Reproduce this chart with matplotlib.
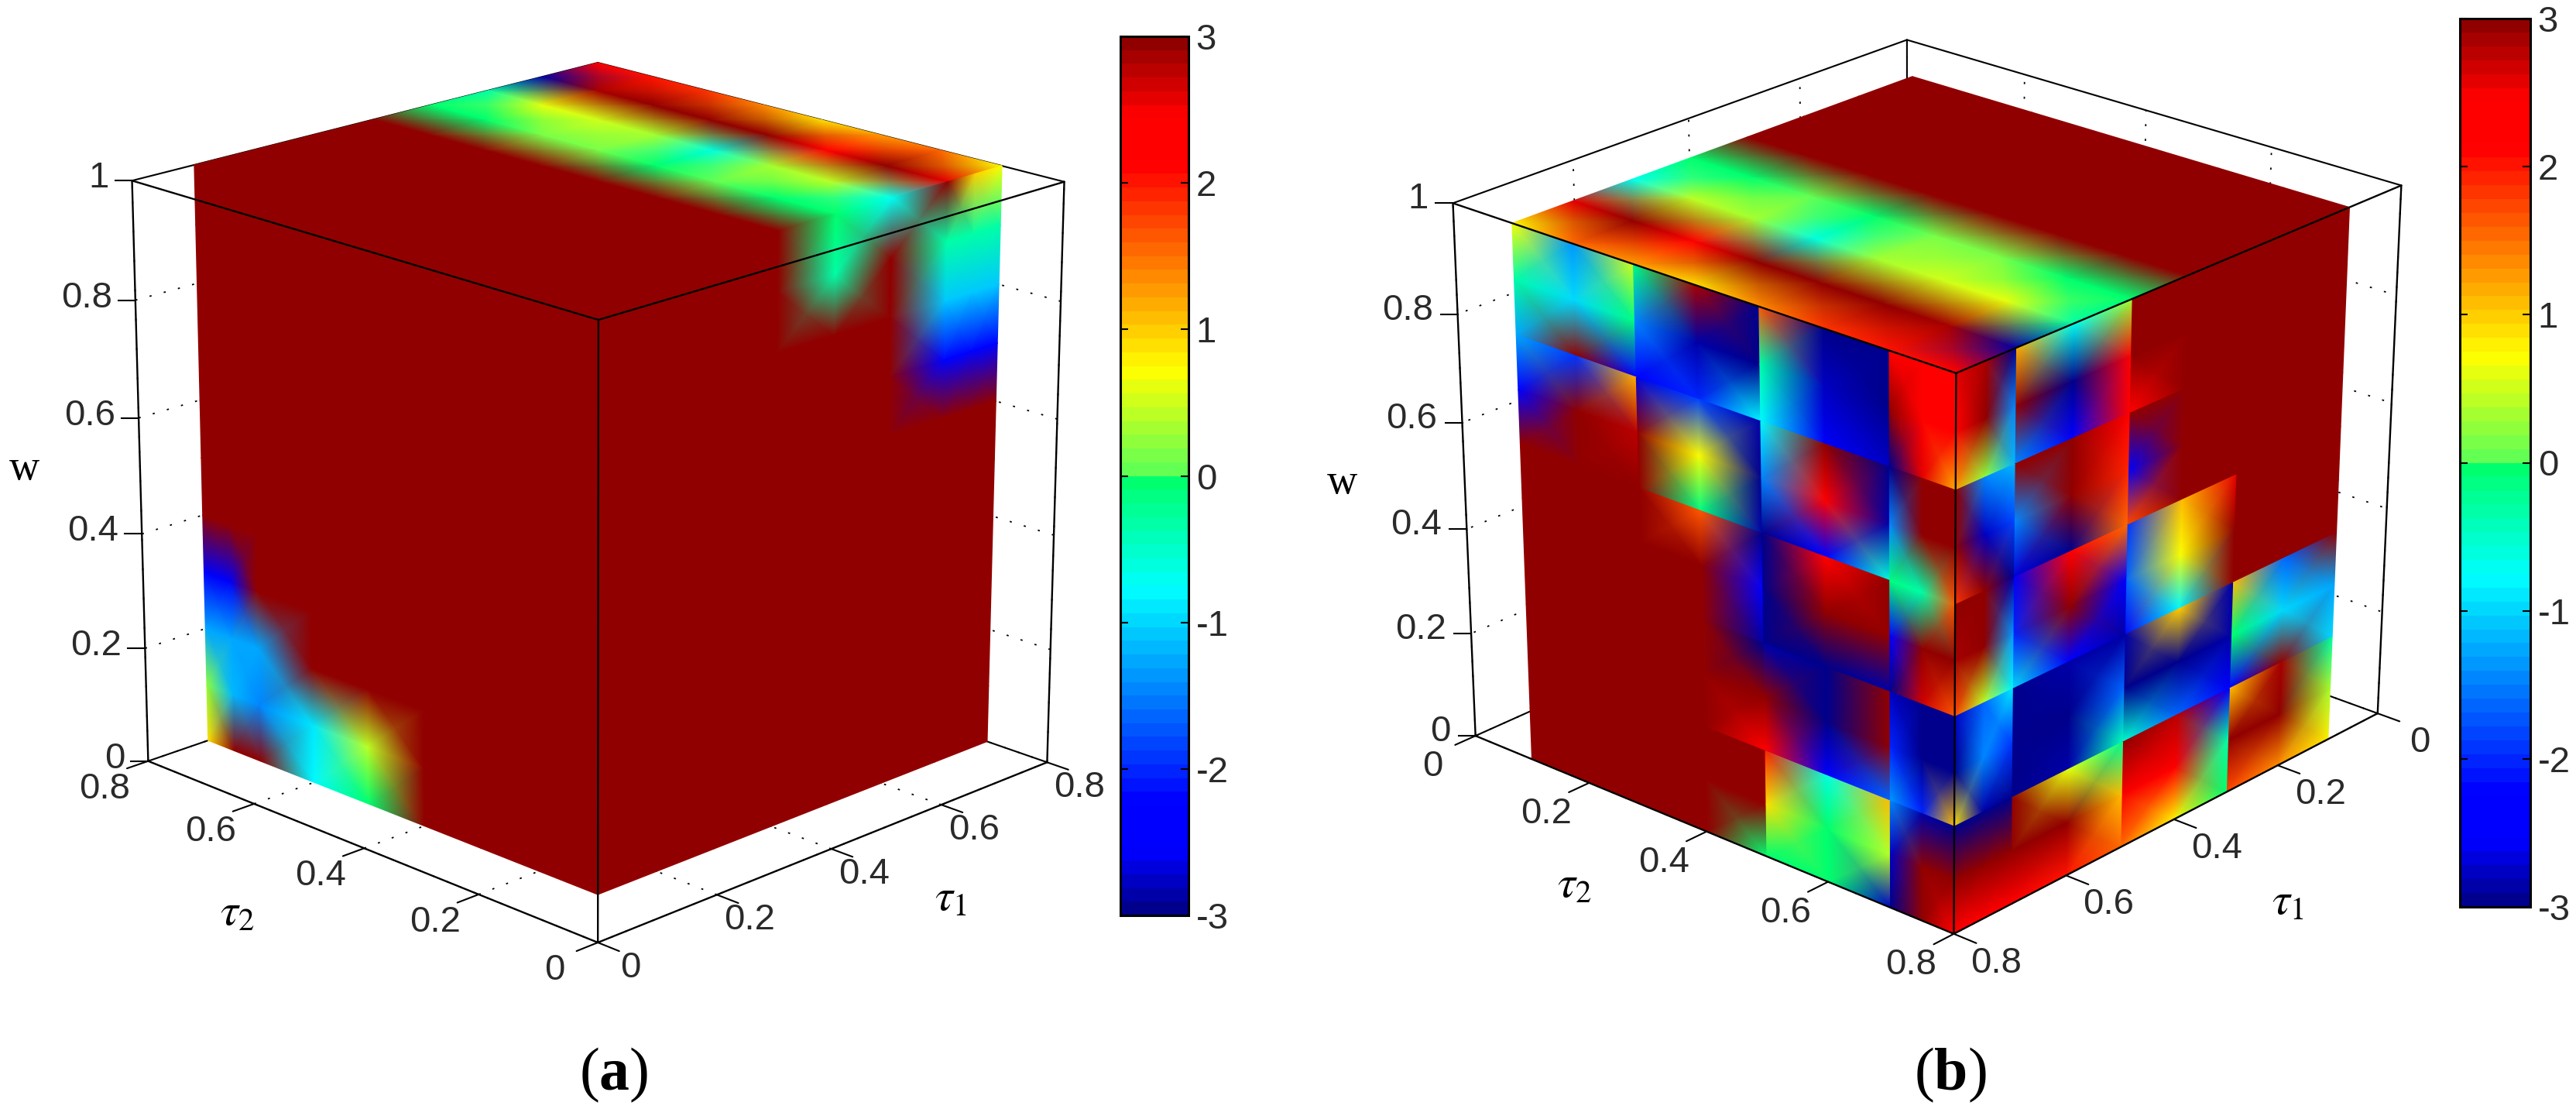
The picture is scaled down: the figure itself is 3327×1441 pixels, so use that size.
import numpy as np
import matplotlib
matplotlib.use("Agg")
import matplotlib.pyplot as plt
from matplotlib.colors import LinearSegmentedColormap, Normalize
from matplotlib.cm import ScalarMappable

W, H = 3327, 1441

# sampling of the slices: 5 w bands, 4 tau cells, 3x3 nodes in each cell
w_bands = [[1.0, 0.9, 0.8], [0.8, 0.7, 0.6], [0.6, 0.5, 0.4], [0.4, 0.3, 0.2], [0.2, 0.1, 0.0]]
tau_cells = [[0.1, 0.2, 0.3], [0.3, 0.4, 0.5], [0.5, 0.6, 0.7], [0.7, 0.75, 0.8]]
top_tau = [0.1, 0.2, 0.3, 0.4, 0.5, 0.6, 0.7, 0.8]

# w = 1 slice, shown in both panels: rows tau1 = 0.1 .. 0.8, columns tau2 = 0.1 .. 0.8
top_values = [
    [3, 3, 3, 3, 3, 3, 3, 3],
    [3, 3, 3, 3, 3, 3, 3, 3],
    [3, 3, 3, 3, 3, 3, 3, 3],
    [3, 3, 3, 3, 3, 3, 3, 3],
    [-0.05, -0.05, 0.05, -0.05, 0.1, 0.1, -0.05, -0.05],
    [-0.7, 0.45, 0.3, -0.6, 0.35, 0.5, 0.6, -0.3],
    [2.6, 3, 2.4, 3, 3, 3, 2.9, -2.9],
    [0.7, 1.5, 1.3, 0.9, 1.4, 1.8, 2.0, 2.2],
]

# panel (b), slice tau1 = 0.8: rows w from 1 down, columns tau2 ascending
b_left = [
    [0.7, -1.4, 0.5, -0.1, 2.9, -3, 1.6, -3, -3, 2.1, 2.3, 2.4],
    [-0.3, -1.0, -0.1, -1.5, -2.9, -3, -0.3, -2.8, -3, 3, 2.3, 2.3],
    [-1.3, 3, -2.5, -2.4, -2, -0.8, -0.8, -2.6, -2.8, -3, 2.6, 1.2],
    [-1.3, -1.9, 1.2, -2.7, -1.8, -2.9, -0.8, 3, -3, -3, 3, 3],
    [-2.2, 3, 2.8, 3, 0.7, -3, -1.5, 2.3, -2.9, -1.5, 3, 3],
    [3, 3, 3, 3, -0.1, -2.9, -3, -2.3, -0.6, -0.1, -0.3, 1.6],
    [3, 3, 3, 3, 1.6, -3, -3, 2.3, 3, -0.1, -0.3, 1.6],
    [3, 3, 3, 3, 3, -2.4, -3, 3, 3, -2.5, 3, 3],
    [3, 3, 3, 3, 3, -2.9, -3, -3, -2.9, -3, 2.7, 1.6],
    [3, 3, 3, 3, 3, -3, -2.9, -3, 3, -2.8, -3, -3],
    [3, 3, 3, 3, 3, 3, 3, -3, 3, -2, -3, -3],
    [3, 3, 3, 3, 3, 2.2, 2.2, -2.4, -1.6, -1.4, -2, 1.1],
    [3, 3, 3, 3, 3, 3, 1.9, -0.6, 1.1, -1.5, -2.9, -3],
    [3, 3, 3, 3, 3, 3, 0.9, -0.05, 0.45, -2.8, 3, 3],
    [3, 3, 3, 3, 3, -0.05, -0.05, -0.05, -2.8, -3, 3, 2.3],
]

# panel (b), slice tau2 = 0.8: rows w from 1 down, columns tau1 descending (left to right on screen)
b_right = [
    [2.6, 2.9, -3, 1.2, -0.7, 0.3, 3, 3, 3, 3, 3, 3],
    [2.3, 3, -1.5, 3, -3, 2.2, 3, 3, 3, 3, 3, 3],
    [1.3, 0.2, -1.2, -1.5, -2.4, 2.2, 2.2, 3, 3, 3, 3, 3],
    [3, -1.5, -1.2, 3, 3, 2.2, 3, 3, 3, 3, 3, 3],
    [3, -2.8, -1.8, -1.5, 3, 1.9, -2.6, 3, 3, 3, 3, 3],
    [1.8, 3, -3, -2.7, -3, 1.5, 1.7, 3, 3, 3, 3, 3],
    [3, 3, -2.9, -2.6, 2.2, 1.5, -1.9, 1.1, 2.6, 3, 3, 3],
    [2.9, 3, -1.4, -2, 3, -2.4, -1.6, 0.7, 3, 3, 3, 3],
    [1.7, 0.4, -0.8, -1, -2.4, -2.9, -2.2, -0.8, 3, 3, 3, 3],
    [-2.8, -1.6, -0.9, -3, -2.9, -2.9, -2.9, 1, -2.9, 1.1, -1.6, 3],
    [-3, -1.5, -1.9, -3, -3, -1.6, -3, -3, -2.9, -0.05, -1, -1.3],
    [0.9, -2.9, -3, -3, -2.9, -0.4, -0.5, -1.6, -2.4, -2.4, 3, -1],
    [-3, -3, -3, 3, 0.6, -0.2, 3, 2.8, -2.4, 1.1, 2.9, -0.3],
    [3, 3, 3, 3, 3, 1.1, 2.5, 2.3, -0.3, 3, 3, 0.3],
    [2.3, 2.2, 2.1, 2.1, 2, 1.5, 1.5, 0.8, -0.05, 1.7, 1.4, 0.75],
]

# panel (a), slice tau1 = 0.1: saturated except near tau2 = 0.8, low w
a_left = [
    [3, 3, 3, 3, 3, 3, 3, 3, 3, 3, 3, 3],
    [3, 3, 3, 3, 3, 3, 3, 3, 3, 3, 3, 3],
    [3, 3, 3, 3, 3, 3, 3, 3, 3, 3, 3, 3],
    [3, 3, 3, 3, 3, 3, 3, 3, 3, 3, 3, 3],
    [3, 3, 3, 3, 3, 3, 3, 3, 3, 3, 3, 3],
    [3, 3, 3, 3, 3, 3, 3, 3, 3, 3, 3, 3],
    [3, 3, 3, 3, 3, 3, 3, 3, 3, 3, 3, 3],
    [3, 3, 3, 3, 3, 3, 3, 3, 3, 3, 3, 3],
    [3, 3, 3, 3, 3, 3, 3, 3, 3, 3, 3, 3],
    [3, 3, 3, 3, 3, 3, 3, 3, 3, 3, 3, 3],
    [3, 3, 3, 3, 3, 3, 3, 3, 3, 3, -2.6, -2.6],
    [3, 3, 3, 3, 3, 3, 3, 3, -1.3, -1.3, -1.3, -1.3],
    [3, 3, 3, 3, 3, 3, 3, 3, -1.3, -1.3, -1.3, -1.3],
    [3, 3, 3, 3, 3, 0.4, 0.4, -0.9, -1.5, -1.5, -1.2, 0.2],
    [3, 3, 3, 3, 3, -0.05, -0.05, -0.8, 3, 3, 3, 0.9],
]

# panel (a), slice tau2 = 0.1: saturated except near tau1 = 0.8, high w
a_right = [
    [3, 3, 3, 3, 3, -0.05, -0.05, -0.7, 3, 3, 1, 0.7],
    [3, 3, 3, 3, 3, -0.3, -0.3, 3, -0.3, -0.3, -0.3, -0.3],
    [3, 3, 3, 3, 3, 3, 3, 3, -1.1, -1.1, -1.1, -1.1],
    [3, 3, 3, 3, 3, 3, 3, 3, -1.1, -1.1, -1.1, -1.1],
    [3, 3, 3, 3, 3, 3, 3, 3, -2.2, -2.2, -2.2, -2.2],
    [3, 3, 3, 3, 3, 3, 3, 3, 3, 3, 3, 3],
    [3, 3, 3, 3, 3, 3, 3, 3, 3, 3, 3, 3],
    [3, 3, 3, 3, 3, 3, 3, 3, 3, 3, 3, 3],
    [3, 3, 3, 3, 3, 3, 3, 3, 3, 3, 3, 3],
    [3, 3, 3, 3, 3, 3, 3, 3, 3, 3, 3, 3],
    [3, 3, 3, 3, 3, 3, 3, 3, 3, 3, 3, 3],
    [3, 3, 3, 3, 3, 3, 3, 3, 3, 3, 3, 3],
    [3, 3, 3, 3, 3, 3, 3, 3, 3, 3, 3, 3],
    [3, 3, 3, 3, 3, 3, 3, 3, 3, 3, 3, 3],
    [3, 3, 3, 3, 3, 3, 3, 3, 3, 3, 3, 3],
]

tau_ticks = [0, 0.2, 0.4, 0.6, 0.8]
tau_tick_labels = ['0', '0.2', '0.4', '0.6', '0.8']
w_ticks = [0, 0.2, 0.4, 0.6, 0.8, 1]
w_tick_labels = ['0', '0.2', '0.4', '0.6', '0.8', '1']
cbar_ticks = [-3, -2, -1, 0, 1, 2, 3]
cbar_labels = ['-3', '-2', '-1', '0', '1', '2', '3']

# where the axes box corners land on the page, (tau1, tau2, w) -> pixels
corners_a = [((0, 0, 1), (773, 413)), ((0, 0, 0), (773, 1217)),
             ((0, 0.8, 1), (170, 234)), ((0, 0.8, 0), (191, 982)),
             ((0.8, 0, 1), (1374, 234)), ((0.8, 0, 0), (1352, 985)),
             ((0.8, 0.8, 1), (773, 81))]
corners_b = [((0.8, 0.8, 1), (2526, 481)), ((0.8, 0.8, 0), (2525, 1206)),
             ((0.8, 0, 1), (1876, 264)), ((0.8, 0, 0), (1905, 949)),
             ((0, 0.8, 1), (3101, 239)), ((0, 0.8, 0), (3070, 922)),
             ((0, 0, 1), (2464, 51))]

# jet like map of the original, 64 steps with the small jump at zero
jet_nodes = [(-3.0, (0, 0, 0.55)), (-2.6, (0, 0, 1)), (-2.25, (0, 0, 1)), (-0.78, (0, 1, 1)),
             (0.0, (0, 1, 0.4)), (0.0, (0.35, 1, 0.35)), (0.73, (1, 1, 0)), (2.15, (1, 0, 0)),
             (2.5, (1, 0, 0)), (3.0, (0.57, 0, 0))]
jet64 = LinearSegmentedColormap.from_list('jet64', [((v + 3) / 6, c) for v, c in jet_nodes], N=64)
norm = Normalize(-3, 3)

plt.rcParams['font.family'] = ['Liberation Sans', 'DejaVu Sans']
plt.rcParams['mathtext.fontset'] = 'custom'
plt.rcParams['mathtext.bf'] = 'Liberation Serif:bold'
plt.rcParams['mathtext.rm'] = 'Liberation Serif'
TEXT = '#2a2a2a'


def fit_camera(corners):
    # plain DLT, gives the perspective used by the MATLAB view
    rows, rhs = [], []
    for (x, y, z), (u, v) in corners:
        rows.append([x, y, z, 1, 0, 0, 0, 0, -u * x, -u * y, -u * z])
        rows.append([0, 0, 0, 0, x, y, z, 1, -v * x, -v * y, -v * z])
        rhs += [u, v]
    p = np.linalg.lstsq(np.array(rows, float), np.array(rhs, float), rcond=None)[0]

    def project(x, y, z):
        x, y, z = np.asarray(x, float), np.asarray(y, float), np.asarray(z, float)
        d = p[8] * x + p[9] * y + p[10] * z + 1
        return (p[0] * x + p[1] * y + p[2] * z + p[3]) / d, (p[4] * x + p[5] * y + p[6] * z + p[7]) / d
    return project


def draw_mesh(ax, project, t1, t2, w, values):
    X, Y = project(t1, t2, w)
    ax.pcolormesh(X, Y, np.array(values, float), shading='gouraud', cmap=jet64, norm=norm, zorder=3)


def draw_wall(ax, project, values, fixed, axis):
    values = np.array(values, float)
    for b, ws in enumerate(w_bands):
        for c, ts in enumerate(tau_cells):
            T, Z = np.meshgrid(ts, ws)
            F = np.full(T.shape, fixed)
            cell = values[3 * b:3 * b + 3, 3 * c:3 * c + 3]
            if axis == 'tau1':
                draw_mesh(ax, project, F, T, Z, cell)
            else:
                draw_mesh(ax, project, T, F, Z, cell)


def line3(ax, project, a, b, zorder=2, **kw):
    x, y = project([a[0], b[0]], [a[1], b[1]], [a[2], b[2]])
    ax.plot(x, y, color='black', solid_capstyle='round', zorder=zorder, **kw)


def draw_panel(ax, project, near, far, left_vals, right_vals, off_w, off_t1, off_t2):
    # dotted grid on the floor and the two back walls
    grid = dict(lw=1.3, linestyle=(0, (1.5, 9)))
    for t in tau_ticks:
        line3(ax, project, (t, 0, 0), (t, 0.8, 0), **grid)
        line3(ax, project, (0, t, 0), (0.8, t, 0), **grid)
        line3(ax, project, (t, far, 0), (t, far, 1), **grid)
        line3(ax, project, (far, t, 0), (far, t, 1), **grid)
    for z in w_ticks[1:-1]:
        line3(ax, project, (0, far, z), (0.8, far, z), **grid)
        line3(ax, project, (far, 0, z), (far, 0.8, z), **grid)

    # back edges go under the slices
    for z in (0, 1):
        line3(ax, project, (far, 0, z), (far, 0.8, z), lw=1.5)
        line3(ax, project, (0, far, z), (0.8, far, z), lw=1.5)
    line3(ax, project, (far, far, 0), (far, far, 1), lw=1.5)

    # slices
    draw_mesh(ax, project, *np.meshgrid(top_tau, top_tau, indexing='ij'),
              np.ones((8, 8)), top_values)
    draw_wall(ax, project, left_vals, 0.1 if near == 0 else 0.8, 'tau1')
    draw_wall(ax, project, right_vals, 0.1 if near == 0 else 0.8, 'tau2')

    # front edges on top of them
    for z in (0, 1):
        line3(ax, project, (near, 0, z), (near, 0.8, z), zorder=5, lw=1.7)
        line3(ax, project, (0, near, z), (0.8, near, z), zorder=5, lw=1.7)
    line3(ax, project, (near, near, 0), (near, near, 1), zorder=5, lw=1.7)
    line3(ax, project, (near, far, 0), (near, far, 1), zorder=5, lw=1.7)
    line3(ax, project, (far, near, 0), (far, near, 1), zorder=5, lw=1.7)

    step = -0.035 if near == 0 else 0.035
    for t, lab in zip(tau_ticks, tau_tick_labels):
        line3(ax, project, (near, t, 0), (near + step, t, 0), zorder=5, lw=1.5)
        line3(ax, project, (t, near, 0), (t, near + step, 0), zorder=5, lw=1.5)
        x, y = project(near, t, 0)
        ax.text(x + off_t2[0], y + off_t2[1], lab, fontsize=34, color=TEXT, ha='center', va='center')
        x, y = project(t, near, 0)
        ax.text(x + off_t1[0], y + off_t1[1], lab, fontsize=34, color=TEXT, ha='center', va='center')
    for z, lab in zip(w_ticks, w_tick_labels):
        x, y = project(near, far, z)
        ax.plot([x - 22, x], [y, y], color='black', lw=1.5, zorder=5)
        ax.text(x + off_w[0], y + off_w[1], lab, fontsize=34, color=TEXT, ha='right', va='center')


def add_colorbar(fig, x0, y0, x1, y1, label_pad):
    cax = fig.add_axes([x0 / W, 1 - y1 / H, (x1 - x0) / W, (y1 - y0) / H])
    sm = ScalarMappable(norm=norm, cmap=jet64)
    cb = fig.colorbar(sm, cax=cax, ticks=cbar_ticks)
    cb.ax.set_yticklabels(cbar_labels, fontsize=34, color=TEXT)
    cb.ax.tick_params(axis='y', direction='in', left=True, right=True, length=7,
                      width=1.5, pad=label_pad)
    cb.outline.set_linewidth(2.2)
    cb.minorticks_off()


fig = plt.figure(figsize=(W / 100, H / 100), dpi=100)
ax = fig.add_axes([0, 0, 1, 1])
ax.set_xlim(0, W)
ax.set_ylim(H, 0)
ax.axis('off')

cam_a = fit_camera(corners_a)
cam_b = fit_camera(corners_b)
draw_panel(ax, cam_a, 0, 0.8, a_left, a_right, (-30, -3), (42, 33), (-56, 36))
draw_panel(ax, cam_b, 0.8, 0, b_left, np.array(b_right)[:, ::-1], (-32, -5), (55, 38), (-55, 40))

add_colorbar(fig, 1447, 47, 1535, 1182, 7)
add_colorbar(fig, 3177, 24, 3268, 1171, 7)

# axis names
ax.text(32, 606, 'w', family='Liberation Serif', fontsize=39, ha='center', va='center', color='black')
ax.text(1733, 624, 'w', family='Liberation Serif', fontsize=39, ha='center', va='center', color='black')
for x, y, s in [(307, 1179, r'$\tau_2$'), (1228, 1160, r'$\tau_1$'),
                (2034, 1143, r'$\tau_2$'), (2955, 1165, r'$\tau_1$')]:
    ax.text(x, y, s, fontsize=42, ha='center', va='center', color='black', math_fontfamily='stix')

# captions
for x, s in [(793, r'($\mathbf{a}$)'), (2519, r'($\mathbf{b}$)')]:
    ax.text(x, 1388, s, family='Liberation Serif', fontsize=56, ha='center', va='center',
            color='black', math_fontfamily='custom')

fig.savefig('out.png', dpi=100, facecolor='white')
